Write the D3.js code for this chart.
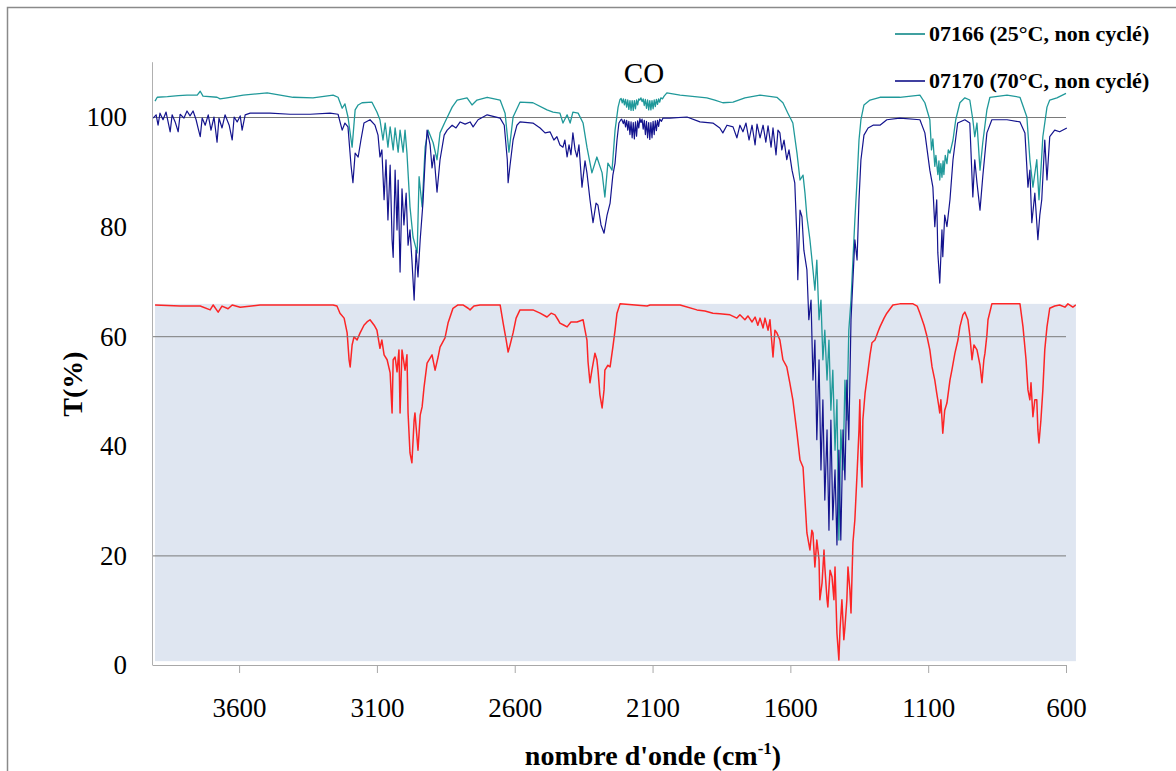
<!DOCTYPE html>
<html><head><meta charset="utf-8">
<script src="https://cdn.jsdelivr.net/npm/d3@7"></script>
<style>
body{margin:0;background:#fff}
svg{display:block}
text{font-family:"Liberation Serif","Times New Roman",serif;fill:#000}
</style>
</head><body>
<svg id="c" width="1176" height="771"></svg>
<script>
const seriesNames = ["07166 (25°C, non cyclé)", "07170 (70°C, non cyclé)"];
const xTicks = [3600, 3100, 2600, 2100, 1600, 1100, 600];
const yTicks = [0, 20, 40, 60, 80, 100];
const yGrid = [20, 60, 100];
const bandLabel = "CO";

// 07166 (25°C, non cyclé) : [wavenumber cm-1, T %]
const s07166 = [[3905,102.9],[3897,103.6],[3860,103.7],[3820,103.9],[3789,104.0],[3752,104.0],[3741,104.7],[3731,103.8],[3680,103.6],[3669,103.3],[3644,103.5],[3585,104.0],[3498,104.4],[3404,103.6],[3332,103.5],[3259,104.0],[3241,103.6],[3226,101.6],[3216,102.4],[3205,100.0],[3190,94.5],[3179,101.3],[3168,102.2],[3154,102.6],[3118,102.7],[3100,100.9],[3089,99.5],[3078,95.8],[3070,98.9],[3060,94.5],[3052,98.2],[3041,94.0],[3034,98.0],[3023,93.6],[3016,97.6],[3005,93.6],[2998,97.6],[2991,93.4],[2980,83.6],[2969,78.1],[2954,75.2],[2947,89.1],[2936,83.6],[2925,94.5],[2914,97.6],[2896,95.3],[2882,92.2],[2871,97.1],[2853,99.1],[2827,101.8],[2809,103.1],[2773,103.5],[2755,102.2],[2737,103.1],[2700,103.6],[2653,103.1],[2635,100.7],[2621,93.6],[2606,100.0],[2581,102.7],[2534,102.6],[2483,101.3],[2461,100.9],[2436,100.7],[2425,98.9],[2410,100.4],[2399,98.9],[2389,100.9],[2370,100.7],[2352,98.9],[2338,94.5],[2320,89.8],[2302,92.7],[2283,89.8],[2273,85.4],[2262,91.6],[2247,90.3],[2236,97.6],[2225,101.8],[2218,103.2],
[2214,103.4],[2210,102.6],[2206,103.3],[2202,102.2],[2198,103.2],[2194,101.8],[2190,103.1],[2186,101.4],[2182,103.0],[2178,101.2],[2174,103.0],[2170,101.2],[2166,103.0],[2162,101.5],[2158,103.1],[2154,102.2],[2150,103.3],[2146,103.1],[2142,103.5],[2138,102.8],[2134,103.3],[2130,102.1],[2126,103.2],[2122,101.6],[2118,103.1],[2114,101.3],[2110,103.0],[2106,101.3],[2102,103.0],[2098,101.5],[2094,103.1],[2090,101.9],[2086,103.2],[2082,102.3],[2078,103.3],[2074,102.7],[2070,103.5],[2064,103.3],[2058,103.8],
[2048,104.4],[2000,104.0],[1903,103.5],[1874,103.1],[1845,102.6],[1808,102.7],[1765,103.5],[1710,104.0],[1649,103.6],[1627,102.6],[1609,100.7],[1591,98.9],[1576,93.4],[1565,88.5],[1554,89.4],[1547,86.1],[1540,81.8],[1529,77.6],[1518,72.1],[1511,68.4],[1504,73.9],[1496,63.0],[1489,66.6],[1482,55.7],[1475,61.1],[1467,52.0],[1460,59.3],[1453,46.5],[1446,53.8],[1438,39.2],[1431,48.4],[1424,22.8],[1417,42.9],[1409,35.6],[1402,52.0],[1395,44.7],[1388,61.1],[1380,66.6],[1373,73.9],[1366,81.2],[1358,88.5],[1351,95.8],[1344,99.5],[1333,102.2],[1311,103.1],[1275,103.6],[1203,103.6],[1130,104.0],[1112,102.6],[1094,99.5],[1088,94.0],[1083,96.0],[1076,91.0],[1072,93.0],[1065,89.5],[1061,92.0],[1058,88.5],[1054,91.5],[1050,89.0],[1046,92.0],[1043,89.5],[1038,93.0],[1032,91.5],[1027,94.0],[1021,93.4],[1010,95.8],[1000,99.5],[985,102.6],[967,103.5],[949,103.1],[938,99.5],[931,96.4],[923,98.9],[912,90.3],[902,95.3],[887,101.3],[876,103.6],[814,104.0],[767,103.6],[742,100.0],[731,92.2],[720,87.2],[706,92.2],[698,84.9],[691,90.3],[684,96.4],[669,101.8],[659,103.1],[633,103.5],[600,104.3]];

// 07170 (70°C, non cyclé)
const s07170 = [[3912,99.8],[3901,100.4],[3894,98.5],[3887,100.7],[3876,99.5],[3865,100.9],[3850,97.3],[3843,100.4],[3832,99.1],[3821,97.3],[3814,100.5],[3800,99.8],[3789,101.1],[3778,100.2],[3767,101.1],[3756,99.5],[3749,98.0],[3741,96.4],[3734,99.8],[3723,98.5],[3712,100.4],[3702,97.6],[3691,100.0],[3680,95.4],[3673,99.8],[3662,98.0],[3651,100.4],[3636,98.5],[3625,95.8],[3618,100.0],[3607,99.1],[3596,100.2],[3589,97.6],[3578,100.4],[3560,100.7],[3488,100.7],[3415,100.5],[3342,100.5],[3270,100.7],[3241,100.5],[3226,97.6],[3216,98.9],[3205,98.2],[3194,91.2],[3187,88.0],[3179,93.4],[3168,92.7],[3158,95.8],[3147,98.9],[3125,99.5],[3107,98.5],[3096,96.7],[3089,92.7],[3082,94.0],[3074,84.9],[3067,92.2],[3060,81.2],[3052,91.2],[3045,77.6],[3041,74.4],[3034,90.3],[3027,79.4],[3023,88.5],[3016,71.7],[3009,86.9],[3002,80.3],[2994,86.1],[2987,76.6],[2980,79.4],[2973,73.9],[2965,66.6],[2958,75.7],[2951,70.8],[2943,77.6],[2933,84.3],[2925,92.2],[2918,97.6],[2907,94.9],[2900,90.7],[2893,93.1],[2882,86.3],[2871,92.2],[2856,96.7],[2845,97.6],[2827,98.5],[2813,98.0],[2798,99.1],[2780,98.7],[2762,99.1],[2751,98.2],[2733,99.5],[2700,100.4],[2653,99.8],[2638,98.5],[2627,92.2],[2624,88.0],[2617,91.2],[2606,95.8],[2592,98.5],[2581,99.1],[2534,98.9],[2508,98.0],[2490,97.1],[2472,97.3],[2458,95.8],[2447,96.4],[2436,94.9],[2425,94.5],[2418,95.8],[2410,92.7],[2403,94.9],[2396,93.1],[2389,97.1],[2381,94.0],[2374,92.7],[2367,94.9],[2356,87.2],[2345,92.0],[2338,89.8],[2327,84.9],[2316,80.7],[2305,84.3],[2298,83.9],[2287,80.3],[2276,78.8],[2265,82.1],[2254,84.3],[2244,89.4],[2236,91.6],[2229,95.8],[2222,98.9],[2215,99.5],
[2212,99.6],[2206,98.8],[2202,99.5],[2198,98.2],[2194,99.4],[2190,97.6],[2186,99.2],[2182,96.8],[2178,99.1],[2174,96.2],[2170,99.0],[2166,96.0],[2162,99.1],[2158,96.5],[2154,99.3],[2150,98.0],[2146,99.7],[2142,99.0],[2138,99.6],[2134,97.8],[2130,99.4],[2126,96.8],[2122,99.2],[2118,96.2],[2114,99.0],[2110,95.9],[2106,99.0],[2102,96.2],[2098,99.2],[2094,96.8],[2090,99.3],[2086,97.5],[2082,99.4],[2078,98.3],[2074,99.6],[2068,99.2],[2062,99.8],
[2037,99.8],[1975,100.0],[1928,99.1],[1881,98.9],[1856,98.0],[1845,97.1],[1830,98.5],[1808,98.2],[1794,96.2],[1783,98.5],[1772,97.3],[1761,98.9],[1750,95.8],[1739,98.5],[1728,94.9],[1721,98.7],[1710,96.2],[1699,98.5],[1689,95.4],[1681,98.4],[1670,94.5],[1663,98.0],[1652,93.1],[1645,97.6],[1638,97.1],[1631,94.0],[1623,95.8],[1613,92.2],[1605,94.0],[1594,90.3],[1584,88.0],[1576,77.6],[1573,70.3],[1565,83.0],[1558,81.8],[1551,75.7],[1540,72.1],[1533,63.0],[1525,66.6],[1518,52.0],[1511,59.3],[1504,41.1],[1496,55.7],[1489,35.6],[1482,48.4],[1475,30.1],[1467,42.9],[1460,24.6],[1453,44.7],[1446,26.5],[1438,35.6],[1431,21.9],[1424,39.2],[1417,22.8],[1409,42.9],[1402,33.8],[1395,52.0],[1388,41.1],[1380,63.0],[1373,70.3],[1366,77.6],[1358,73.9],[1351,84.9],[1344,92.2],[1333,96.7],[1318,98.0],[1300,98.5],[1275,98.5],[1250,99.5],[1203,99.8],[1130,99.5],[1112,97.1],[1094,90.3],[1083,87.2],[1076,80.0],[1069,84.9],[1065,75.2],[1058,69.7],[1050,79.4],[1047,74.5],[1040,82.1],[1032,80.0],[1021,84.9],[1010,92.2],[993,98.9],[967,99.5],[949,98.9],[938,85.4],[931,92.2],[923,88.0],[912,83.0],[902,89.1],[887,97.1],[869,99.5],[814,99.5],[767,99.1],[749,97.1],[738,87.2],[731,90.3],[724,80.7],[713,86.1],[702,77.6],[695,82.1],[688,84.9],[677,95.8],[669,88.5],[659,96.4],[641,97.6],[623,97.3],[597,98.0]];

// third spectrum (red trace, shaded panel)
const sRed = [[3905,65.7],[3814,65.5],[3741,65.5],[3705,64.8],[3694,65.7],[3676,64.4],[3662,65.5],[3640,65.0],[3625,65.7],[3596,65.3],[3524,65.7],[3379,65.7],[3259,65.7],[3245,65.5],[3234,64.2],[3219,63.3],[3208,60.6],[3201,55.7],[3197,54.4],[3190,58.4],[3183,59.9],[3172,59.3],[3161,60.6],[3147,62.0],[3136,62.6],[3125,63.0],[3110,62.0],[3100,61.1],[3089,57.8],[3082,59.3],[3074,56.6],[3063,55.7],[3052,53.3],[3045,46.0],[3041,55.7],[3034,56.2],[3027,53.5],[3020,57.5],[3016,46.0],[3009,57.5],[2998,53.8],[2991,56.6],[2987,46.0],[2980,38.7],[2973,36.9],[2965,44.7],[2962,46.0],[2954,41.1],[2951,39.2],[2943,45.6],[2936,47.1],[2929,50.7],[2918,55.1],[2907,56.0],[2900,56.6],[2889,53.8],[2878,56.2],[2871,58.0],[2853,59.7],[2842,62.4],[2824,65.1],[2806,65.7],[2788,65.7],[2769,65.1],[2762,64.8],[2748,65.5],[2726,65.7],[2653,65.7],[2642,62.4],[2631,59.3],[2624,57.1],[2617,58.4],[2606,60.6],[2595,63.3],[2581,64.8],[2534,64.8],[2508,64.2],[2483,63.5],[2468,64.2],[2454,63.9],[2443,63.0],[2436,62.4],[2421,62.0],[2410,61.7],[2396,62.6],[2374,62.6],[2352,63.0],[2345,61.1],[2338,59.3],[2334,55.3],[2327,51.5],[2320,53.8],[2309,56.9],[2302,55.7],[2298,53.8],[2291,49.3],[2283,46.9],[2276,50.2],[2273,53.8],[2262,54.7],[2254,54.4],[2244,58.0],[2236,61.1],[2229,64.2],[2218,65.9],[2120,65.5],[2109,65.7],[2000,65.7],[1939,64.8],[1910,64.6],[1881,64.2],[1856,64.1],[1819,63.9],[1794,63.3],[1783,63.9],[1765,63.0],[1754,63.7],[1739,62.6],[1728,63.5],[1718,62.0],[1710,63.3],[1699,61.5],[1692,63.3],[1681,61.1],[1674,63.0],[1663,56.2],[1656,61.1],[1649,60.6],[1638,59.3],[1627,55.7],[1613,54.4],[1602,51.5],[1591,48.4],[1576,42.3],[1565,37.4],[1554,36.1],[1547,30.1],[1540,24.1],[1529,21.0],[1522,24.6],[1518,24.1],[1511,17.9],[1504,22.8],[1496,19.2],[1493,11.9],[1485,15.0],[1478,21.0],[1475,17.9],[1467,11.9],[1464,10.6],[1456,17.3],[1449,16.1],[1442,11.9],[1438,17.9],[1431,5.8],[1424,0.9],[1420,6.4],[1413,11.9],[1406,4.6],[1402,6.9],[1395,11.9],[1391,17.9],[1384,13.7],[1380,9.5],[1373,22.3],[1366,26.5],[1358,35.0],[1351,42.9],[1348,48.4],[1344,37.4],[1340,32.5],[1337,44.7],[1329,49.6],[1318,53.8],[1311,56.6],[1304,58.8],[1293,59.3],[1282,60.8],[1275,61.7],[1260,63.3],[1250,64.2],[1228,65.7],[1203,65.9],[1155,65.9],[1140,65.5],[1130,64.2],[1115,62.0],[1104,59.9],[1094,57.5],[1086,54.4],[1076,52.0],[1069,49.6],[1062,47.4],[1058,46.0],[1054,48.4],[1047,42.3],[1040,46.5],[1032,47.8],[1021,52.0],[1014,53.8],[1003,56.9],[992,59.3],[985,61.7],[974,63.9],[967,64.4],[956,63.0],[949,60.2],[941,55.7],[934,58.4],[923,57.5],[912,54.7],[905,51.5],[898,55.7],[894,56.9],[887,60.2],[883,63.0],[869,65.9],[767,65.9],[756,61.7],[745,55.7],[738,50.2],[731,48.4],[727,51.5],[720,45.3],[713,48.4],[706,48.4],[702,42.9],[698,40.5],[691,44.7],[684,50.2],[677,57.5],[669,61.7],[659,65.1],[641,65.5],[623,65.7],[604,65.3],[593,65.9],[575,65.3],[564,65.7]];

const FONT = '"Liberation Serif","Times New Roman",serif';
const svg = d3.select("#c");
const x = d3.scaleLinear().domain([3916, 600]).range([152, 1066]);
const y = d3.scaleLinear().domain([0, 110]).range([665, 62.2]);
const line = d3.line().x(d => x(d[0])).y(d => y(d[1]));

// outer frame
svg.append("rect").attr("x", 7.5).attr("y", 7.5).attr("width", 1190).attr("height", 790)
  .attr("fill", "none").attr("stroke", "#8a8a8a").attr("stroke-width", 1.5);

// shaded panel of the red spectrum
const panel = {x0: x(3905), x1: x(564), y0: y(65.9), y1: y(0.7)};
svg.append("rect").attr("x", panel.x0).attr("y", panel.y0)
  .attr("width", panel.x1 - panel.x0).attr("height", panel.y1 - panel.y0)
  .attr("fill", "#dfe6f1");
svg.append("defs").append("clipPath").attr("id", "pclip").append("rect")
  .attr("x", panel.x0).attr("y", panel.y0 - 1)
  .attr("width", panel.x1 - panel.x0).attr("height", panel.y1 - panel.y0 + 1);

svg.append("path").datum(sRed).attr("d", line).attr("clip-path", "url(#pclip)")
  .attr("fill", "none").attr("stroke", "#ff1010").attr("stroke-width", 1.5)
  .attr("stroke-linejoin", "round").attr("opacity", 0.9);

// gridlines
svg.append("g").selectAll("line").data(yGrid).join("line")
  .attr("x1", 152).attr("x2", 1066).attr("y1", d => y(d) + 0.5).attr("y2", d => y(d) + 0.5)
  .attr("stroke", "#7a7a7a").attr("stroke-width", 1);

// spectra
svg.append("path").datum(s07166).attr("d", line)
  .attr("fill", "none").attr("stroke", "#20999a").attr("stroke-width", 1.3)
  .attr("stroke-linejoin", "round");
svg.append("path").datum(s07170).attr("d", line)
  .attr("fill", "none").attr("stroke", "#14148e").attr("stroke-width", 1.2)
  .attr("stroke-linejoin", "round");

// y axis
const yAx = svg.append("g").attr("transform", "translate(152,0)")
  .call(d3.axisLeft(y).tickValues(yTicks).tickSize(0).tickPadding(25).tickFormat(d3.format("d")));
yAx.attr("font-family", null);
yAx.select(".domain").attr("stroke", "#b0b0b0").attr("d", `M0.5,${y(110)}V${y(0)}`);
yAx.selectAll("text").style("font-family", FONT).style("font-size", "27px").attr("dy", "0.33em");

// x axis
const xAx = svg.append("g").attr("transform", `translate(0,${y(0)})`)
  .call(d3.axisBottom(x).tickValues(xTicks).tickSize(8).tickSizeOuter(0).tickFormat(d3.format("d")));
xAx.attr("font-family", null);
xAx.select(".domain").attr("stroke", "#a8a8a8");
xAx.selectAll(".tick line").attr("stroke", "#a8a8a8");
xAx.selectAll("text").style("font-family", FONT).style("font-size", "27px")
  .attr("y", 33).attr("dy", "0.71em");

// axis titles
svg.append("text").attr("transform", "translate(82,384) rotate(-90)")
  .attr("text-anchor", "middle").style("font-family", FONT).style("font-size", "28px")
  .attr("font-weight", "bold").text("T(%)");
const xt = svg.append("text").attr("x", 653).attr("y", 765).attr("text-anchor", "middle")
  .style("font-family", FONT).style("font-size", "28px").attr("font-weight", "bold");
xt.append("tspan").text("nombre d'onde (cm");
xt.append("tspan").style("font-size", "17px").attr("dy", -11).text("-1");
xt.append("tspan").attr("dy", 11).text(")");

// band annotation
svg.append("text").attr("x", 644).attr("y", 83).attr("text-anchor", "middle")
  .style("font-family", FONT).style("font-size", "29px").text(bandLabel);

// legend
const legColors = ["#008080", "#000080"];
const legY = [34, 81];
seriesNames.forEach((n, i) => {
  svg.append("line").attr("x1", 895).attr("x2", 925).attr("y1", legY[i]).attr("y2", legY[i])
    .attr("stroke", legColors[i]).attr("stroke-width", 1.5);
  svg.append("text").attr("x", 929).attr("y", legY[i] + 7)
    .style("font-family", FONT).style("font-size", "22px")
    .attr("font-weight", "bold").text(n);
});
</script>
</body></html>
